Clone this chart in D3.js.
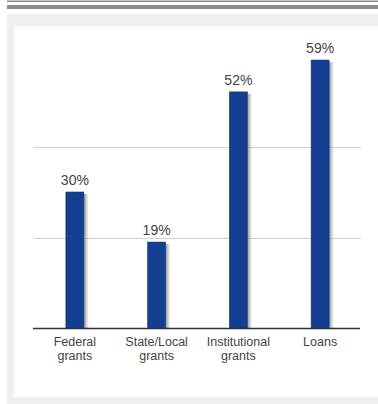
<!DOCTYPE html>
<html>
<head>
<meta charset="utf-8">
<script src="https://cdn.jsdelivr.net/npm/d3@7"></script>
<style>
html,body{margin:0;padding:0;background:#fff;}
svg{display:block;}
</style>
</head>
<body>
<script>
const categories = [["Federal","grants"],["State/Local","grants"],["Institutional","grants"],["Loans"]];
const values = [30, 19, 52, 59];
const gridTicks = [20, 40];

const W = 378, H = 404;
const svg = d3.select("body").append("svg").attr("width", W).attr("height", H);

const defs = svg.append("defs");
const grad = defs.append("linearGradient").attr("id","shadow").attr("x1","0").attr("x2","1").attr("y1","0").attr("y2","0");
grad.append("stop").attr("offset","0").attr("stop-color","#777").attr("stop-opacity",0.8);
grad.append("stop").attr("offset","1").attr("stop-color","#999").attr("stop-opacity",0);

// top rules
svg.append("rect").attr("x",7).attr("y",0.5).attr("width",W-7).attr("height",1.5).attr("fill","#8a8a8a");
svg.append("rect").attr("x",7).attr("y",5).attr("width",W-7).attr("height",4).attr("fill","#8c8c8c");

// panel
svg.append("rect").attr("x",7).attr("y",14).attr("width",W-7).attr("height",H-14).attr("fill","#efefef");
svg.append("rect").attr("x",14).attr("y",26).attr("width",W-14).attr("height",397-26).attr("fill","#ffffff");

const baseY = 328.5;
const y = d3.scaleLinear().domain([0, 20]).range([baseY, baseY - 91]);
const x = d3.scaleBand().domain(d3.range(categories.length)).range([34, 361]).paddingInner(0.78).paddingOuter(0.39);

// gridlines
svg.append("g").selectAll("line").data(gridTicks).join("line")
  .attr("x1",34).attr("x2",361)
  .attr("y1",d=>Math.round(y(d))+0.5).attr("y2",d=>Math.round(y(d))+0.5)
  .attr("stroke","#cfcfcf").attr("stroke-width",1);

const bw = x.bandwidth();
// shadows
svg.append("g").selectAll("rect").data(values).join("rect")
  .attr("x",(d,i)=>x(i)+bw).attr("y",d=>y(d)+2)
  .attr("width",5).attr("height",d=>baseY-y(d)-2)
  .attr("fill","url(#shadow)");

// bars
svg.append("g").selectAll("rect").data(values).join("rect")
  .attr("x",(d,i)=>x(i)).attr("y",d=>y(d))
  .attr("width",bw).attr("height",d=>baseY-y(d))
  .attr("fill","#143e92").attr("stroke","#0f3380").attr("stroke-width",0.6);

// baseline
svg.append("line").attr("x1",33).attr("x2",360).attr("y1",baseY).attr("y2",baseY)
  .attr("stroke","#333").attr("stroke-width",1.5);

// value labels
svg.append("g").selectAll("text").data(values).join("text")
  .attr("x",(d,i)=>x(i)+bw/2).attr("y",d=>y(d)-7)
  .attr("text-anchor","middle")
  .attr("font-family","Liberation Sans, Arial, sans-serif").attr("font-size",14)
  .attr("fill","#444").text(d=>d+"%");

// category labels
const cl = svg.append("g");
categories.forEach((lines,i)=>{
  lines.forEach((s,j)=>{
    cl.append("text").attr("x",x(i)+bw/2).attr("y",345.5 + j*14)
      .attr("text-anchor","middle")
      .attr("font-family","Liberation Sans, Arial, sans-serif").attr("font-size",12.5)
      .attr("fill","#444").text(s);
  });
});
</script>
</body>
</html>
